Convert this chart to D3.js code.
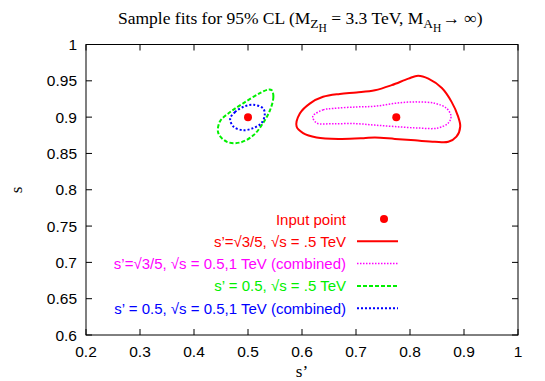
<!DOCTYPE html>
<html>
<head>
<meta charset="utf-8">
<script src="https://cdn.jsdelivr.net/npm/d3@7"></script>
<style>
body{margin:0;background:#fff}
</style>
</head>
<body>
<script>
// contour points (s', s)
var red35=[[0.590,0.887],[0.596,0.905],[0.615,0.919],[0.639,0.928],[0.670,0.932],[0.701,0.934],[0.735,0.937],[0.766,0.944],[0.797,0.953],[0.815,0.957],[0.834,0.953],[0.859,0.940],[0.877,0.921],[0.889,0.901],[0.893,0.887],[0.886,0.873],[0.871,0.866],[0.846,0.866],[0.809,0.868],[0.772,0.870],[0.735,0.872],[0.714,0.871],[0.670,0.870],[0.627,0.872],[0.602,0.878]];
var mag35=[[0.620,0.901],[0.639,0.910],[0.658,0.912],[0.701,0.914],[0.735,0.915],[0.772,0.919],[0.809,0.921],[0.846,0.919],[0.868,0.912],[0.876,0.901],[0.871,0.892],[0.852,0.885],[0.815,0.885],[0.772,0.887],[0.735,0.889],[0.701,0.891],[0.658,0.891],[0.627,0.892]];
var green05=[[0.544,0.937],[0.547,0.928],[0.541,0.910],[0.528,0.892],[0.510,0.875],[0.485,0.865],[0.461,0.866],[0.445,0.878],[0.448,0.894],[0.467,0.907],[0.491,0.919],[0.522,0.933],[0.538,0.938]];
var blue05=[[0.467,0.898],[0.476,0.907],[0.491,0.914],[0.510,0.917],[0.528,0.912],[0.531,0.903],[0.525,0.892],[0.510,0.885],[0.491,0.882],[0.473,0.887]];
var inputPoints=[[0.5,0.9],[0.7746,0.9]];
var xTicks=[0.2,0.3,0.4,0.5,0.6,0.7,0.8,0.9,1];
var yTicks=[0.6,0.65,0.7,0.75,0.8,0.85,0.9,0.95,1];

var W=545,H=381;
var m={l:86,r:27,t:44.5,b:46};
var sans='"Liberation Sans",Arial,sans-serif', serif='"Liberation Serif","Times New Roman",serif';

var svg=d3.select('body').append('svg')
    .attr('width',W).attr('height',H);

var x=d3.scaleLinear().domain([0.2,1]).range([m.l,W-m.r]);
var y=d3.scaleLinear().domain([0.6,1]).range([H-m.b,m.t]);

// ticks, inward and mirrored
var g=svg.append('g').attr('stroke','#000').attr('stroke-width',1);
xTicks.forEach(function(t){
  g.append('line').attr('x1',x(t)).attr('x2',x(t)).attr('y1',y(0.6)).attr('y2',y(0.6)-6);
  g.append('line').attr('x1',x(t)).attr('x2',x(t)).attr('y1',y(1)).attr('y2',y(1)+6);
});
yTicks.forEach(function(t){
  g.append('line').attr('x1',x(0.2)).attr('x2',x(0.2)+6).attr('y1',y(t)).attr('y2',y(t));
  g.append('line').attr('x1',x(1)).attr('x2',x(1)-6).attr('y1',y(t)).attr('y2',y(t));
});
svg.append('rect').attr('x',x(0.2)).attr('y',y(1))
  .attr('width',x(1)-x(0.2)).attr('height',y(0.6)-y(1))
  .attr('fill','none').attr('stroke','#000');

svg.selectAll('.xl').data(xTicks).enter().append('text')
  .attr('x',function(d){return x(d)}).attr('y',y(0.6)+22)
  .attr('text-anchor','middle').style('font-family',sans).style('font-size','15.5px')
  .text(function(d){return d});
svg.selectAll('.yl').data(yTicks).enter().append('text')
  .attr('x',x(0.2)-9).attr('y',function(d){return y(d)+5.5})
  .attr('text-anchor','end').style('font-family',sans).style('font-size','15.5px')
  .text(function(d){return d});

// axis titles
svg.append('text').attr('x',302).attr('y',377).attr('text-anchor','middle')
  .style('font-family',serif).style('font-size','17px').text('s’');
svg.append('text').attr('transform','translate(22,190) rotate(-90)').attr('text-anchor','middle')
  .style('font-family',serif).style('font-size','17px').text('s');

// title with subscripts
var tt=svg.append('text').attr('x',118).attr('y',24)
  .style('font-family',serif).style('font-size','17.5px');
tt.append('tspan').text('Sample fits for 95% CL (M');
tt.append('tspan').attr('dy',4).style('font-size','13.5px').text('Z');
tt.append('tspan').attr('dy',4).style('font-size','11.5px').text('H');
tt.append('tspan').attr('dy',-8).text(' = 3.3 TeV, M');
tt.append('tspan').attr('dy',4).style('font-size','13.5px').text('A');
tt.append('tspan').attr('dy',4).style('font-size','11.5px').text('H');
tt.append('tspan').attr('dy',-8).attr('dx',1).text('→ ∞)');

var line=d3.line()
  .x(function(d){return x(d[0])})
  .y(function(d){return y(d[1])})
  .curve(d3.curveCatmullRomClosed.alpha(0.5));

var series=[
  {data:red35,color:'#ff0000',w:2,dash:null,label:'s’=√3/5, √s = .5 TeV'},
  {data:mag35,color:'#ff00ff',w:1.5,dash:'1.5,1.5',label:'s’=√3/5, √s = 0.5,1 TeV (combined)'},
  {data:green05,color:'#00f000',w:2,dash:'4,2',label:'s’ = 0.5, √s = .5 TeV'},
  {data:blue05,color:'#0000ff',w:2,dash:'2,2',label:'s’ = 0.5, √s = 0.5,1 TeV (combined)'}
];

series.forEach(function(s){
  svg.append('path').attr('d',line(s.data))
    .attr('fill','none').attr('stroke',s.color)
    .attr('stroke-width',s.w).attr('stroke-dasharray',s.dash);
});

svg.selectAll('.pt').data(inputPoints).enter().append('circle')
  .attr('cx',function(d){return x(d[0])}).attr('cy',function(d){return y(d[1])})
  .attr('r',4).attr('fill','#ff0000');

// legend
var lx=346,ly=219,dy=22.3;
svg.append('text').attr('x',lx).attr('y',ly+5.5).attr('text-anchor','end')
  .style('font-family',sans).style('font-size','15px').attr('fill','#ff0000').text('Input point');
svg.append('circle').attr('cx',384).attr('cy',ly).attr('r',4).attr('fill','#ff0000');
series.forEach(function(s,i){
  var yy=ly+dy*(i+1);
  svg.append('text').attr('x',lx).attr('y',yy+5.5).attr('text-anchor','end')
    .style('font-family',sans).style('font-size','15px').attr('fill',s.color).text(s.label);
  svg.append('line').attr('x1',357).attr('x2',398).attr('y1',yy).attr('y2',yy)
    .attr('stroke',s.color).attr('stroke-width',s.w).attr('stroke-dasharray',s.dash);
});
</script>
</body>
</html>
